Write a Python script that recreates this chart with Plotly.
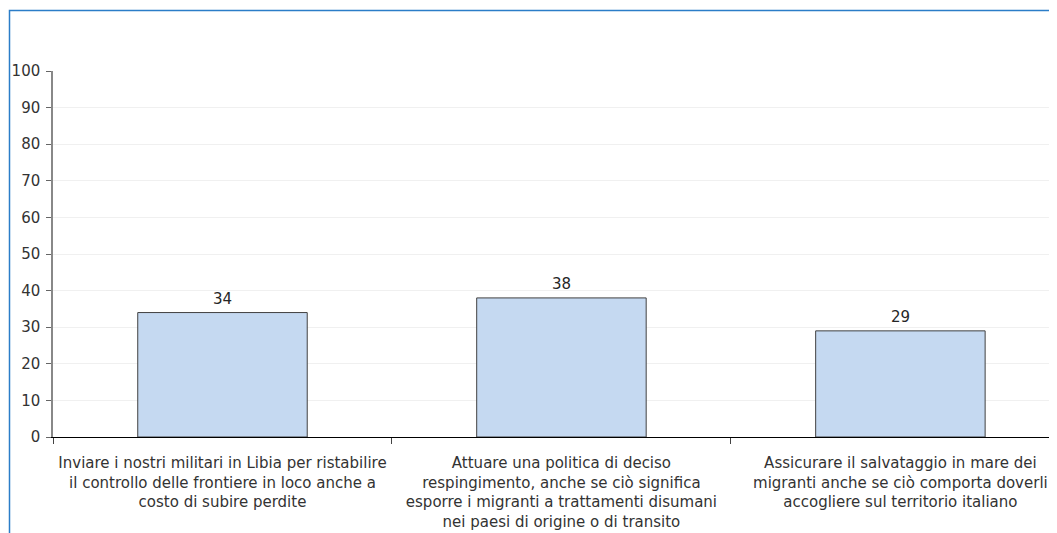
import plotly.graph_objects as go

categories = [
    "Inviare i nostri militari in Libia per ristabilire<br>il controllo delle frontiere in loco anche a<br>costo di subire perdite",
    "Attuare una politica di deciso<br>respingimento, anche se ciò significa<br>esporre i migranti a trattamenti disumani<br>nei paesi di origine o di transito",
    "Assicurare il salvataggio in mare dei<br>migranti anche se ciò comporta doverli<br>accogliere sul territorio italiano",
]
values = [34, 38, 29]
y_ticks = [0, 10, 20, 30, 40, 50, 60, 70, 80, 90, 100]

# page body has an 8px margin, so the figure is sized to fill the rest
W, H = 1049, 525
L, R, T, B = 45, 0, 63, 96

fig = go.Figure(
    go.Bar(
        x=categories,
        y=values,
        width=0.5,
        marker=dict(color="#c5d9f1", line=dict(color="#404040", width=1)),
        hoverinfo="x+y",
    )
)
for c, v in zip(categories, values):
    fig.add_annotation(
        x=c, y=v, text=str(v), showarrow=False, yanchor="bottom", yshift=3,
        font=dict(size=15, color="#262626"),
    )

pw = W - L - R
ph = H - T - B
fig.add_shape(
    type="rect", xref="paper", yref="paper",
    x0=(1.5 - L) / pw, x1=(W + 20 - L) / pw,
    y0=-(H + 20 - T - ph) / ph, y1=(H - 2.5 - B) / ph,
    line=dict(color="#2b7dc8", width=1.5), layer="below",
)

fig.update_layout(
    width=W, height=H,
    margin=dict(l=L, r=R, t=T, b=B, autoexpand=False),
    paper_bgcolor="white", plot_bgcolor="white",
    font=dict(family="'DejaVu Sans', sans-serif", size=15, color="#333333"),
    showlegend=False,
    xaxis=dict(
        type="category",
        range=[-0.5, 2.462],
        automargin=False,
        showline=True, linecolor="#000000", linewidth=1,
        ticks="outside", ticklen=6, tickcolor="#444444", tickson="boundaries",
        ticklabelstandoff=12,
        showgrid=False, zeroline=False,
        tickfont=dict(size=15, color="#333333"),
    ),
    yaxis=dict(
        range=[0, 100], tickvals=y_ticks,
        automargin=False,
        showline=True, linecolor="#888888", linewidth=1.5,
        ticks="outside", ticklen=5, tickcolor="#666666",
        ticklabelstandoff=3,
        showgrid=True, gridcolor="#f0f0f0", zeroline=False,
        tickfont=dict(size=15, color="#333333"),
    ),
)

fig.write_html("out.html")
